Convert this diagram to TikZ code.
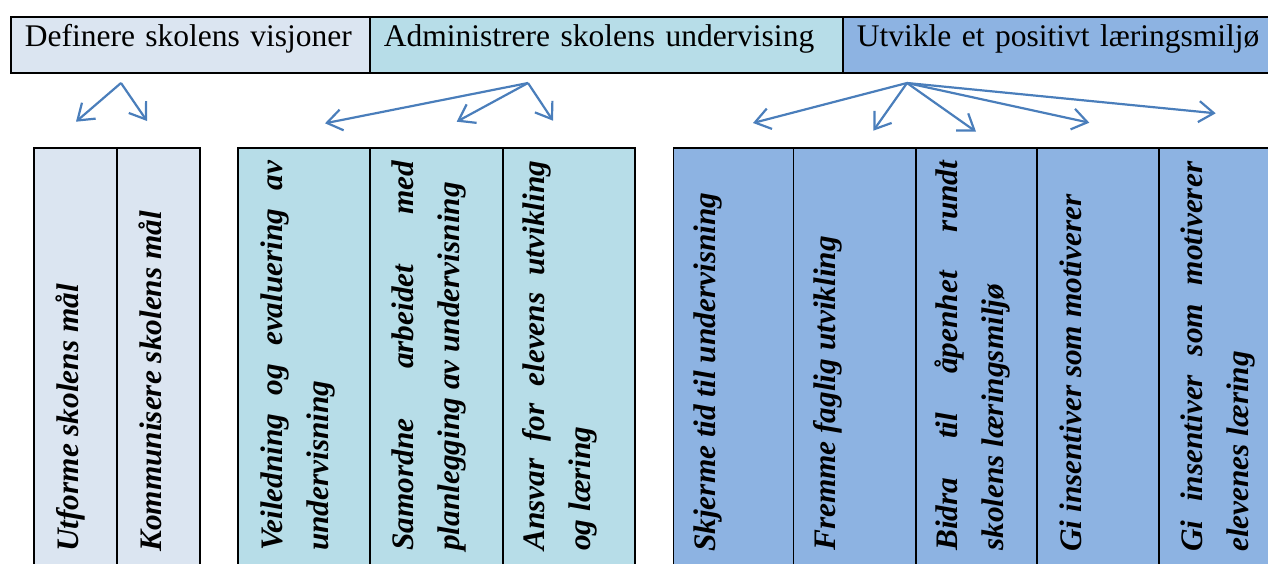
\documentclass[tikz,border=0pt]{standalone}
\usepackage{fontspec}
\setmainfont{Liberation Serif}
\usetikzlibrary{arrows.meta}
\definecolor{visjon}{HTML}{DBE5F1}
\definecolor{undervis}{HTML}{B7DDE8}
\definecolor{miljo}{HTML}{8DB3E2}
\definecolor{pil}{HTML}{4A7EBB}
\tikzset{
  topbox/.style={draw=black, line width=1.6pt, anchor=north west, minimum height=56pt,
    inner xsep=14pt, inner ysep=0pt, align=left, text height=22pt, text depth=18.6pt,
    font=\fontsize{31.5}{47}\selectfont},
  colbox/.style={draw=black, line width=1.6pt, anchor=north west, minimum height=440pt, inner sep=0pt},
  coltext/.style={rotate=90, anchor=base west, inner sep=0pt, text width=390pt, align=justify,
    font=\fontsize{31.3}{46.5}\selectfont\bfseries\itshape,
    execute at begin node={\hyphenpenalty=10000\relax\tolerance=10000\relax}},
  pilstyle/.style={draw=pil, line width=2.2pt, -{Straight Barb[length=15pt,width=21pt]}},
}
\begin{document}
\begin{tikzpicture}[x=1pt,y=1pt]
\useasboundingbox (0,0) rectangle (1268,-563);
\clip (0,0) rectangle (1268,-563);

% top bar
\node[topbox, fill=visjon, text width=331pt] (t1) at (10,-16) {Definere skolens visjoner};
\node[topbox, fill=undervis, text width=445pt] (t2) at (369,-16) {Administrere skolens undervising};
\node[topbox, fill=miljo, text width=422pt] (t3) at (842,-16) {Utvikle et positivt læringsmiljø};

% columns group 1
\node[colbox, fill=visjon, minimum width=82.7pt] (c11) at (33.3,-147) {};
\node[colbox, fill=visjon, minimum width=83pt] (c12) at (116,-147) {};
% columns group 2
\node[colbox, fill=undervis, minimum width=132pt] (c21) at (237,-147) {};
\node[colbox, fill=undervis, minimum width=133pt] (c22) at (369,-147) {};
\node[colbox, fill=undervis, minimum width=132pt] (c23) at (502,-147) {};
% columns group 3
\node[colbox, fill=miljo, minimum width=120pt] (c31) at (672.7,-147) {};
\node[colbox, fill=miljo, minimum width=122.3pt] (c32) at (792.7,-147) {};
\node[colbox, fill=miljo, minimum width=121pt] (c33) at (915,-147) {};
\node[colbox, fill=miljo, minimum width=122pt] (c34) at (1036,-147) {};
\node[colbox, fill=miljo, minimum width=130pt] (c35) at (1158,-147) {};

% column texts
\node[coltext] (x11) at (78.3,-552) {Utforme skolens mål};
\node[coltext] (x12) at (161,-552) {Kommunisere skolens mål};
\node[coltext] (x21) at (282,-551) {Veiledning og evaluering av\linebreak undervisning};
\node[coltext] (x22) at (413,-551) {Samordne arbeidet med\linebreak planlegging av undervisning};
\node[coltext] (x23) at (544,-551) {Ansvar for elevens utvikling\linebreak og læring};
\node[coltext] (x31) at (715,-552) {Skjerme tid til undervisning};
\node[coltext] (x32) at (835,-551) {Fremme faglig utvikling};
\node[coltext] (x33) at (957,-551) {Bidra til åpenhet rundt\linebreak skolens læringsmiljø};
\node[coltext] (x34) at (1081,-552) {Gi insentiver som motiverer};
\node[coltext] (x35) at (1202,-552) {Gi insentiver som motiverer\linebreak elevenes læring};

% arrows
\coordinate (o1) at (121,-83);
\coordinate (a11) at (76,-121.7);
\coordinate (a12) at (147,-121);
\coordinate (o2) at (528,-83);
\coordinate (a21) at (325,-123.3);
\coordinate (a22) at (456.7,-121.7);
\coordinate (a23) at (553,-120.7);
\coordinate (o3) at (907,-83);
\coordinate (a31) at (753,-123);
\coordinate (a32) at (873.3,-130.7);
\coordinate (a33) at (976,-131.7);
\coordinate (a34) at (1089.3,-122.7);
\coordinate (a35) at (1215.7,-113.3);
\foreach \o/\a in {o1/a11,o1/a12,o2/a21,o2/a22,o2/a23,o3/a31,o3/a32,o3/a33,o3/a34,o3/a35}
  \draw[pilstyle] (\o) -- (\a);
\end{tikzpicture}
\end{document}
